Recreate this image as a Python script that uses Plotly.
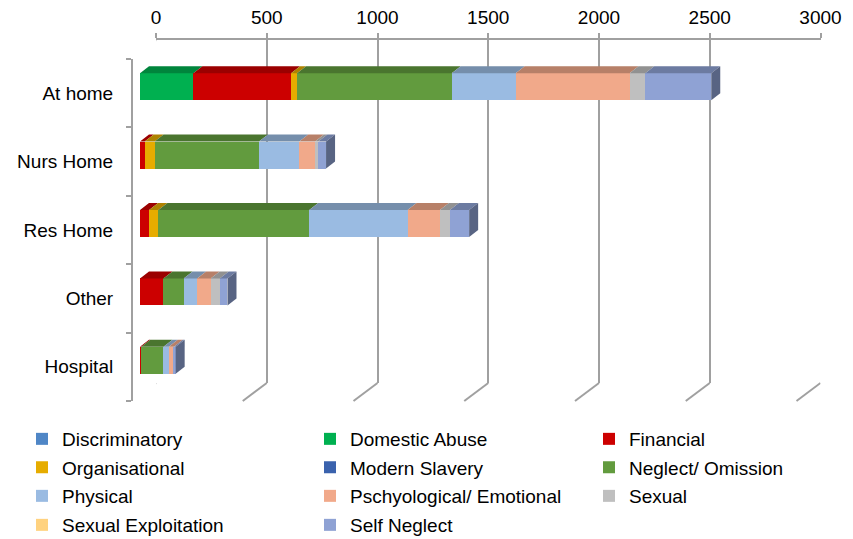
import plotly.graph_objects as go

# ---------------- data ----------------
categories = ["At home", "Nurs Home", "Res Home", "Other", "Hospital"]
series_names = ["Discriminatory", "Domestic Abuse", "Financial", "Organisational",
                "Modern Slavery", "Neglect/ Omission", "Physical",
                "Pschyological/ Emotional", "Sexual", "Sexual Exploitation", "Self Neglect"]
discriminatory = [0, 0, 0, 0, 0]
domestic_abuse = [241, 0, 0, 0, 0]
financial = [441, 21, 41, 106, 6]
organisational = [27, 45, 42, 0, 0]
modern_slavery = [0, 0, 0, 0, 0]
neglect_omission = [698, 471, 681, 91, 100]
physical = [289, 182, 444, 61, 24]
psychological = [514, 71, 146, 61, 23]
sexual = [71, 15, 45, 41, 0]
sexual_exploitation = [0, 0, 0, 0, 0]
self_neglect = [298, 35, 87, 35, 8]
x_ticks = [0, 500, 1000, 1500, 2000, 2500, 3000]

series_values = [discriminatory, domestic_abuse, financial, organisational, modern_slavery,
                 neglect_omission, physical, psychological, sexual, sexual_exploitation,
                 self_neglect]
colors = ["#4F86C6", "#00B050", "#CC0000", "#E6AC00", "#3A62AD", "#629B3E",
          "#9ABBE2", "#F1A98A", "#BFBFBF", "#FFD27F", "#8FA2D4"]

# ---------------- geometry ----------------
# the page body adds an 8px margin, so the figure is drawn 8px smaller and
# every reference pixel position is shifted by OFF
OFF = 8
W, H = 853 - OFF, 539 - OFF
GRID = "#A0A0A0"
FONT = "Liberation Sans, Arial, sans-serif"
FS = 19


def fx(px):
    return (px - OFF) / W


def fy(py):
    return (H - (py - OFF)) / H


px_per_unit = (804.5 - 140) / 3000.0
cat_px = (401 - 59) / 5.0
bar_shift = 6.5 / cat_px       # front face sits slightly above category centre
bar_h = 27 / cat_px            # front face height
dx = 9 / px_per_unit           # depth offset in x units
dy = 7 / cat_px                # depth offset in y units


def shade(hexcol, f):
    h = hexcol.lstrip("#")
    r, g, b = (int(h[i:i + 2], 16) for i in (0, 2, 4))
    return "rgb(%d,%d,%d)" % (int(r * f), int(g * f), int(b * f))


n = len(categories)
ypos = [n - 1 - i for i in range(n)]
ybar = [p + bar_shift for p in ypos]

fig = go.Figure()

# dummy trace for the back-wall subplot (x / y)
fig.add_trace(go.Scatter(x=[0], y=[0], mode="markers", marker=dict(opacity=0),
                         showlegend=False, hoverinfo="skip", xaxis="x", yaxis="y"))

legend_ids = ["legend" if k == 0 else "legend%d" % (k + 1) for k in range(len(series_names))]
for k, (name, vals, col) in enumerate(zip(series_names, series_values, colors)):
    fig.add_trace(go.Bar(
        name=name, y=ybar, x=vals, orientation="h", width=bar_h,
        marker=dict(color=col, line=dict(width=0)),
        xaxis="x2", yaxis="y2", legend=legend_ids[k], hoverinfo="x+name"))

# 3-D top faces and end faces built from the data
cum = [0.0] * n
last_series = [None] * n
for k, (vals, col) in enumerate(zip(series_values, colors)):
    xs, ys = [], []
    for i in range(n):
        v = vals[i]
        if v <= 0:
            continue
        a, b = cum[i], cum[i] + v
        top = ybar[i] + bar_h / 2
        xs += [a, b, b + dx, a + dx, a, None]
        ys += [top, top, top + dy, top + dy, top, None]
        cum[i] = b
        last_series[i] = k
    if xs:
        fig.add_trace(go.Scatter(x=xs, y=ys, mode="none", fill="toself",
                                 fillcolor=shade(col, 0.76), showlegend=False,
                                 hoverinfo="skip", xaxis="x2", yaxis="y2"))

for i in range(n):
    k = last_series[i]
    e = cum[i]
    top = ybar[i] + bar_h / 2
    bot = ybar[i] - bar_h / 2
    fig.add_trace(go.Scatter(
        x=[e, e, e + dx, e + dx, e], y=[bot, top, top + dy, bot + dy, bot],
        mode="none", fill="toself", fillcolor=shade(colors[k], 0.62),
        showlegend=False, hoverinfo="skip", xaxis="x2", yaxis="y2"))

# floor lines and top-left edge of the 3-D box
shapes = []
for v in x_ticks:
    shapes.append(dict(type="line", xref="x", xsizemode="pixel", xanchor=v, x0=0, x1=-24,
                       yref="paper", y0=fy(383), y1=fy(401),
                       line=dict(color=GRID, width=2), layer="below"))
shapes.append(dict(type="line", xref="x", xsizemode="pixel", xanchor=0, x0=0, x1=-24,
                   yref="paper", y0=fy(40), y1=fy(58),
                   line=dict(color=GRID, width=2), layer="below"))

# legend grid: 3 columns x 4 rows, one small legend per entry
row_centres = [439, 467.5, 496, 525]
col_text_x = [62, 350, 629]
legend_layouts = {}
for k, lid in enumerate(legend_ids):
    r, c = k // 3, k % 3
    legend_layouts[lid] = dict(
        orientation="h", x=fx(col_text_x[c] - 40), xanchor="left", y=fy(row_centres[r]),
        yanchor="middle",
        font=dict(family=FONT, size=FS, color="#000"), bgcolor="rgba(0,0,0,0)",
        itemwidth=30, traceorder="normal", itemclick=False, itemdoubleclick=False)

fig.update_layout(
    width=W, height=H, autosize=False,
    margin=dict(l=0, r=0, t=0, b=0, autoexpand=False),
    paper_bgcolor="white", plot_bgcolor="rgba(0,0,0,0)",
    barmode="stack", bargap=0,
    font=dict(family=FONT, size=FS, color="#000"),
    shapes=shapes,
    xaxis=dict(domain=[fx(156), fx(820.5)], range=[0, 3000], side="top", anchor="y",
               tickmode="array", tickvals=x_ticks, showgrid=True, gridcolor=GRID,
               gridwidth=2, zeroline=False, showline=True, linecolor=GRID, linewidth=2,
               ticks="outside", ticklen=5, tickwidth=2, tickcolor=GRID,
               ticklabelstandoff=1,
               tickfont=dict(family=FONT, size=FS, color="#000"),
               fixedrange=True, automargin=False),
    yaxis=dict(domain=[fy(383), fy(40)], range=[0, 1], visible=False,
               fixedrange=True, anchor="x"),
    xaxis2=dict(domain=[fx(140), fx(804.5)], range=[0, 3000], anchor="y2",
                visible=False, fixedrange=True),
    yaxis2=dict(domain=[fy(401), fy(59)], range=[-0.5, n - 0.5],
                anchor="free", position=fx(132), showline=True, linecolor=GRID,
                linewidth=2, tickmode="array", tickvals=ypos, ticktext=categories,
                ticks="", ticklabelstandoff=14, showgrid=False, zeroline=False,
                tickfont=dict(family=FONT, size=FS, color="#000"),
                minor=dict(tickmode="array", tickvals=[p - 0.5 for p in range(n + 1)],
                           ticks="outside", ticklen=5, tickwidth=2, tickcolor=GRID,
                           showgrid=False),
                fixedrange=True, automargin=False),
    **legend_layouts,
)

fig.write_html("out.html")
